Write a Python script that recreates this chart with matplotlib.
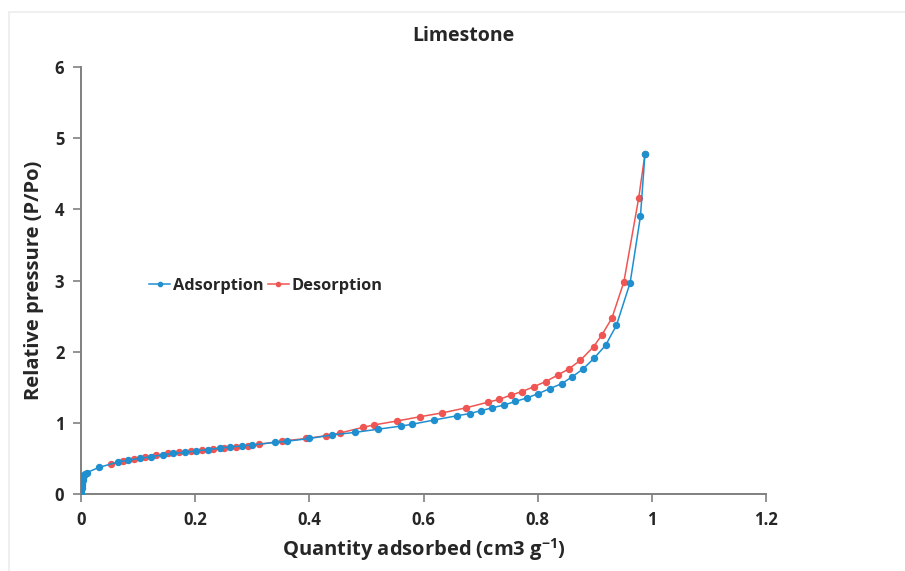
import matplotlib
matplotlib.use("Agg")
import matplotlib.pyplot as plt
from matplotlib.patches import Rectangle

plt.rcParams['font.family'] = ['Open Sans', 'DejaVu Sans']

title = "Limestone"
xlabel = "Quantity adsorbed (cm3 g$^{\\mathregular{-1}}$)"
ylabel = "Relative pressure (P/Po)"
series_names = ["Adsorption", "Desorption"]

ads_x = [0.0, 0.0005, 0.001, 0.0015, 0.002, 0.003, 0.004, 0.005, 0.007, 0.01,
         0.032, 0.065, 0.083, 0.103, 0.122, 0.143, 0.162, 0.182, 0.202, 0.223,
         0.243, 0.261, 0.282, 0.30, 0.34, 0.36, 0.40, 0.44, 0.48, 0.52, 0.561,
         0.58, 0.619, 0.659, 0.681, 0.70, 0.72, 0.741, 0.761, 0.781, 0.801,
         0.821, 0.842, 0.861, 0.88, 0.899, 0.919, 0.938, 0.962, 0.98, 0.988]
ads_y = [0.0, 0.04, 0.08, 0.12, 0.16, 0.20, 0.23, 0.26, 0.28, 0.30,
         0.375, 0.45, 0.475, 0.50, 0.525, 0.55, 0.57, 0.585, 0.605, 0.625,
         0.645, 0.66, 0.675, 0.69, 0.725, 0.74, 0.78, 0.83, 0.866, 0.91, 0.955,
         0.98, 1.04, 1.10, 1.13, 1.17, 1.21, 1.25, 1.30, 1.35, 1.41,
         1.48, 1.55, 1.65, 1.76, 1.91, 2.09, 2.37, 2.97, 3.90, 4.78]

des_x = [0.988, 0.977, 0.951, 0.93, 0.912, 0.898, 0.875, 0.855, 0.835, 0.814,
         0.794, 0.773, 0.753, 0.733, 0.713, 0.674, 0.633, 0.594, 0.553, 0.513,
         0.494, 0.454, 0.43, 0.395, 0.352, 0.312, 0.292, 0.272, 0.251, 0.232,
         0.212, 0.193, 0.172, 0.153, 0.132, 0.112, 0.093, 0.074, 0.053]
des_y = [4.78, 4.16, 2.98, 2.47, 2.23, 2.07, 1.88, 1.76, 1.67, 1.58,
         1.51, 1.44, 1.39, 1.33, 1.29, 1.21, 1.14, 1.086, 1.025, 0.97,
         0.937, 0.857, 0.82, 0.78, 0.744, 0.698, 0.674, 0.66, 0.64, 0.628,
         0.615, 0.605, 0.588, 0.57, 0.545, 0.52, 0.495, 0.468, 0.425]

xticks = [0, 0.2, 0.4, 0.6, 0.8, 1, 1.2]
xtick_labels = ["0", "0.2", "0.4", "0.6", "0.8", "1", "1.2"]
yticks = [0, 1, 2, 3, 4, 5, 6]

blue = "#1f8fd0"
red = "#ef5552"
axis_gray = "#808080"
text_col = "#262626"

fig = plt.figure(figsize=(9.05, 5.71), dpi=100)
fig.patches.append(Rectangle((9 / 905, -0.05), 1.2, 0.979 + 0.05,
                             transform=fig.transFigure, fill=False,
                             edgecolor="#ececec", linewidth=1.2))
ax = fig.add_axes([81 / 905, 77 / 571, (766 - 81) / 905, (494 - 67) / 571])

ax.plot(ads_x, ads_y, color=blue, lw=1.1, marker="o", ms=4.3,
        label=series_names[0], zorder=3)
ax.plot(des_x, des_y, color=red, lw=1.1, marker="o", ms=4.3,
        label=series_names[1], zorder=2)

ax.set_xlim(0, 1.2)
ax.set_ylim(0, 6)
ax.set_xticks(xticks)
ax.set_xticklabels(xtick_labels)
ax.set_yticks(yticks)

for s in ["top", "right"]:
    ax.spines[s].set_visible(False)
for s in ["left", "bottom"]:
    ax.spines[s].set_color(axis_gray)
    ax.spines[s].set_linewidth(1.4)

ax.tick_params(axis="both", direction="out", length=6, width=1.2,
               color=axis_gray, labelsize=12, labelcolor=text_col, pad=6)
for lab in ax.get_xticklabels() + ax.get_yticklabels():
    lab.set_fontweight("bold")

ax.set_xlabel(xlabel, fontsize=14.5, fontweight="bold", color=text_col, labelpad=5)
ax.set_ylabel(ylabel, fontsize=14.5, fontweight="bold", color=text_col, labelpad=8)

fig.text(463 / 905, 1 - 36 / 571, title, ha="center", va="center",
         fontsize=14, fontweight="bold", color=text_col)

leg = ax.legend(loc="center left", bbox_to_anchor=(0.078, 0.487), ncol=2,
                frameon=False, fontsize=11.8, handlelength=1.3,
                handletextpad=0.15, columnspacing=0.25, markerscale=0.7)
for t in leg.get_texts():
    t.set_fontweight("bold")
    t.set_color(text_col)

fig.savefig("out.png", dpi=100, facecolor="white")
